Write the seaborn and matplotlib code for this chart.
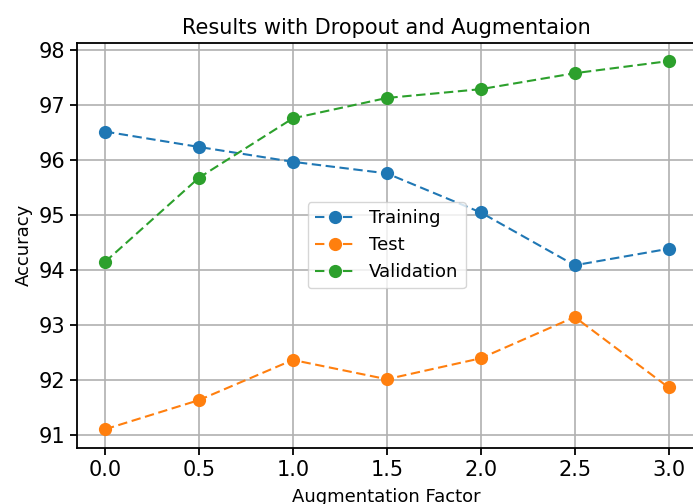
import seaborn as sns
import matplotlib.pyplot as plt
import pandas as pd

factors = [0.0, 0.5, 1.0, 1.5, 2.0, 2.5, 3.0]
training = [96.52, 96.24, 95.97, 95.76, 95.05, 94.09, 94.39]
test = [91.11, 91.64, 92.37, 92.02, 92.40, 93.15, 91.87]
validation = [94.15, 95.68, 96.76, 97.13, 97.29, 97.58, 97.80]

sns.set_style("ticks")
plt.rcParams['font.family'] = ['DejaVu Sans']
plt.rcParams['text.color'] = 'black'
plt.rcParams['axes.labelcolor'] = 'black'
plt.rcParams['xtick.color'] = 'black'
plt.rcParams['ytick.color'] = 'black'
plt.rcParams['axes.edgecolor'] = 'black'

df = pd.DataFrame({"factor": factors, "Training": training, "Test": test, "Validation": validation})

fig = plt.figure(figsize=(6.93, 5.04), dpi=100)
ax = fig.add_axes([0.1108, 0.1117, 0.8947, 0.8036])
colors = sns.color_palette("tab10")
for i, name in enumerate(["Training", "Test", "Validation"]):
    sns.lineplot(data=df, x="factor", y=name, ax=ax, color=colors[i],
                 marker="o", markersize=9.5, markeredgewidth=0,
                 linewidth=1.5, label=name)
for line in ax.get_lines():
    line.set_dashes((4.5, 2.2))

ax.grid(True, color="#b0b0b0", linewidth=1.2)
ax.set_xticks(factors)
ax.tick_params(labelsize=15, width=1.3, length=5)
for s in ax.spines.values():
    s.set_linewidth(1.3)
ax.set_title("Results with Dropout and Augmentaion", fontsize=15, color="black")
ax.set_xlabel("Augmentation Factor", fontsize=13, labelpad=6)
ax.set_ylabel("Accuracy", fontsize=13)
leg = ax.legend(loc="center", fontsize=13, handlelength=2.2)
for h in leg.get_lines():
    h.set_dashes((4.5, 2.2))

fig.savefig("out.png", dpi=100)
